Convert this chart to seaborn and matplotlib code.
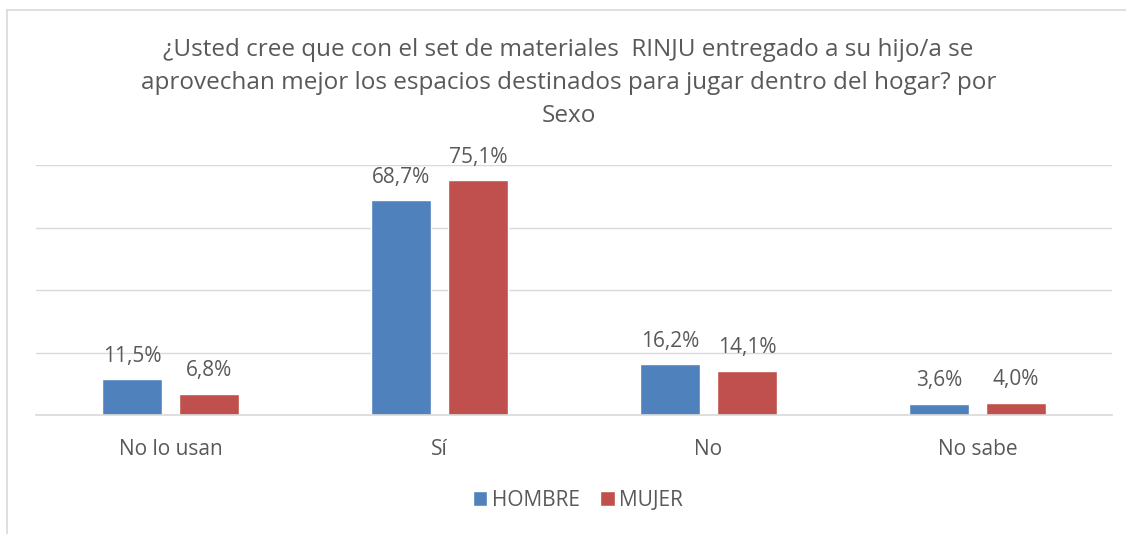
import matplotlib
matplotlib.use("Agg")
import matplotlib.pyplot as plt
import seaborn as sns
import pandas as pd
from matplotlib.lines import Line2D

categories = ["No lo usan", "Sí", "No", "No sabe"]
hombre = [11.5, 68.7, 16.2, 3.6]
mujer = [6.8, 75.1, 14.1, 4.0]
series = ["HOMBRE", "MUJER"]
title = ("¿Usted cree que con el set de materiales  RINJU entregado a su hijo/a se\n"
         "aprovechan mejor los espacios destinados para jugar dentro del hogar? por\n"
         "Sexo")

df = pd.DataFrame({
    "cat": categories * 2,
    "sexo": [series[0]] * 4 + [series[1]] * 4,
    "valor": hombre + mujer,
})

sns.set_theme(style="white")
plt.rcParams["font.family"] = ["Open Sans", "DejaVu Sans"]
TXT = "#595959"
GRID = "#d9d9d9"

fig = plt.figure(figsize=(11.26, 5.34), dpi=100)
ax = fig.add_axes([36/1126, 1-415/534, (1112-36)/1126, (415-165)/534])

sns.barplot(data=df, x="cat", y="valor", hue="sexo", order=categories,
            hue_order=series, palette=["#4F81BD", "#C0504D"],
            width=0.572, gap=0.22, ax=ax, legend=True, saturation=1)

for cont in ax.containers:
    vals = [b.get_height() for b in cont]
    ax.bar_label(cont, labels=[f"{v:.1f}%".replace(".", ",") for v in vals],
                 padding=9, fontsize=15, color=TXT)

ax.set_ylim(0, 80)
ax.set_xlim(-0.5, 3.5)
ax.set_yticks([0, 20, 40, 60, 80])
ax.set_yticklabels([])
ax.tick_params(axis="y", length=0)
ax.yaxis.grid(True, color=GRID, lw=1)
ax.set_axisbelow(True)
for s in ["left", "right", "top"]:
    ax.spines[s].set_visible(False)
ax.spines["bottom"].set_color(GRID)
ax.spines["bottom"].set_linewidth(1.2)
ax.set_xlabel("")
ax.set_ylabel("")
ax.tick_params(axis="x", which="major", length=0, pad=17, labelsize=15, labelcolor=TXT)
ax.set_xticks([-0.5, 0.5, 1.5, 2.5, 3.5], minor=True)
ax.tick_params(axis="x", which="minor", length=5, color=GRID, width=1.2)

leg = ax.legend(loc="center", bbox_to_anchor=(578/1126, 1-500/534), bbox_transform=fig.transFigure,
                ncol=2, frameon=False, fontsize=15, handlelength=0.7, handleheight=0.7,
                handletextpad=0.2, columnspacing=1.0)
for t in leg.get_texts():
    t.set_color(TXT)

fig.text(0.505, 1-83/534, title, ha="center", va="center", fontsize=17.5,
         color=TXT, linespacing=1.5)

fig.add_artist(Line2D([7/1126, 7/1126], [0, 1-10/534], color=GRID, lw=1.2))
fig.add_artist(Line2D([7/1126, 1], [1-10/534, 1-10/534], color=GRID, lw=1.2))

fig.savefig("out.png", dpi=100)
